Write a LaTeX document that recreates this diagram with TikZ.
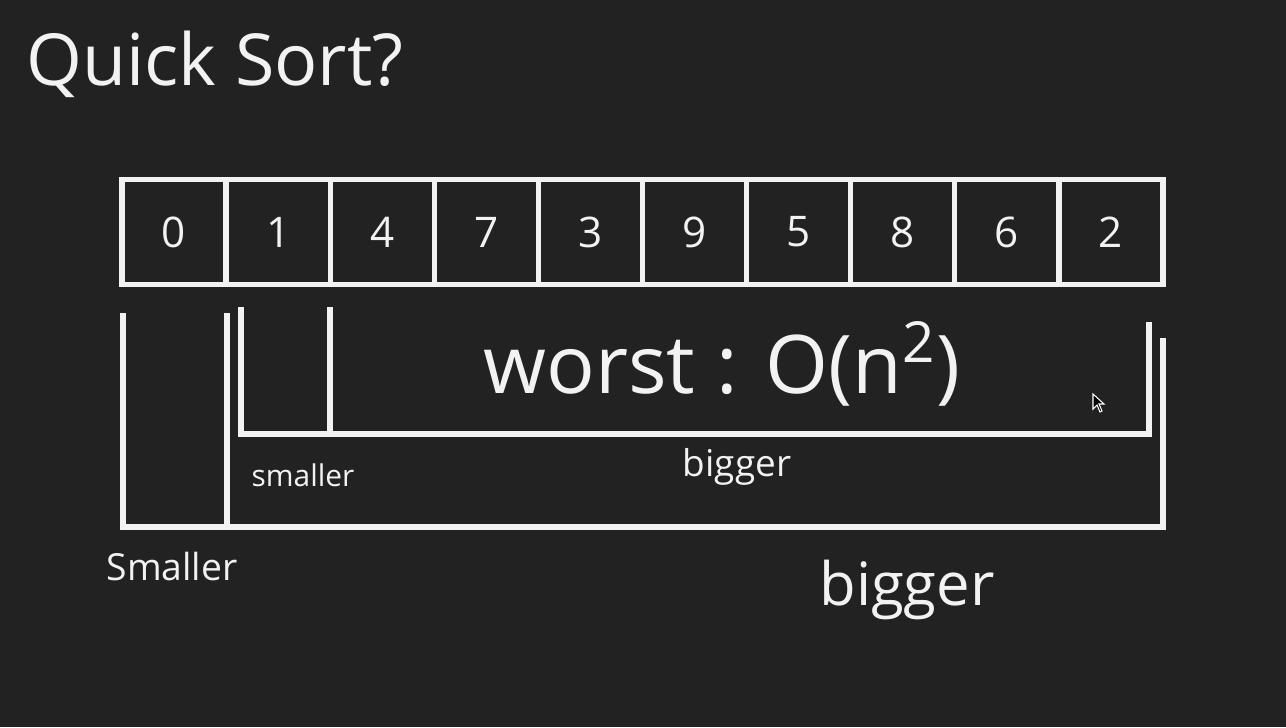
\documentclass[tikz,border=0pt]{standalone}
\usepackage{fontspec}
\setmainfont{Open Sans}
\usetikzlibrary{positioning}
\definecolor{board}{HTML}{222222}
\definecolor{chalkwhite}{HTML}{F2F2F2}

\begin{document}
\begin{tikzpicture}[x=0.01cm, y=-0.01cm,
        chalk/.style={draw=chalkwhite, line width=1.5pt},
        cell/.style={chalk, rectangle, minimum width=1.041cm, minimum height=1.05cm, inner sep=0pt,
            text=chalkwhite, font=\fontsize{12}{14}\selectfont},
        chalktext/.style={text=chalkwhite, inner sep=0pt}]
    \fill[board] (0,0) rectangle (1286,727);
    \useasboundingbox (0,0) rectangle (1286,727);
    % title
    \node [chalktext, font=\fontsize{20.4}{24}\selectfont] (title) at (215,64) {Quick Sort?};
    % the array
    \foreach \v [count=\i from 0] in {0,1,4,7,3,9,5,8,6,2}
        \node [cell] (c\i) at ({122+104.1*(\i+0.5)},232) {\v};
    % outer split
    \draw [chalk] (123,313) -- (123,527) -- (1163,527) -- (1163,338);
    \draw [chalk] (227,313) -- (227,527);
    % inner split
    \draw [chalk] (241,307) -- (241,434) -- (1149,434) -- (1149,322);
    \draw [chalk] (330,307) -- (330,434);
    % labels
    \node [chalktext, font=\fontsize{23}{27}\selectfont] (worst) at (722,364) {worst : O(n\textsuperscript{2})};
    \node [chalktext, font=\fontsize{8.5}{10}\selectfont] (smallin) at (303,475) {smaller};
    \node [chalktext, font=\fontsize{10.5}{12}\selectfont] (bigin) at (737,467) {bigger};
    \node [chalktext, font=\fontsize{10.6}{12}\selectfont] (smallout) at (172,567) {Smaller};
    \node [chalktext, font=\fontsize{17}{20}\selectfont] (bigout) at (907,590) {bigger};
    % mouse pointer
    \filldraw [fill=black, draw=white, line width=0.3pt] (1093,394) -- (1093,409) -- (1097,405) -- (1100,412)
        -- (1102,411) -- (1099,404) -- (1104,404) -- cycle;
\end{tikzpicture}
\end{document}
